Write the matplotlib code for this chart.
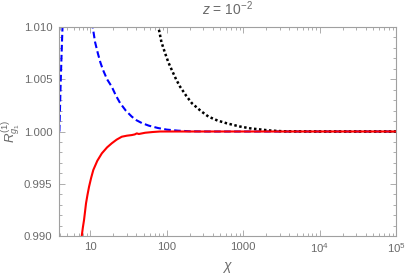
import matplotlib
matplotlib.use("Agg")
import matplotlib.pyplot as plt
from matplotlib.ticker import FixedLocator, LogLocator, NullFormatter, FixedFormatter

plt.rcParams['font.family'] = ['Liberation Sans', 'DejaVu Sans']
plt.rcParams['mathtext.fontset'] = 'custom'
plt.rcParams['mathtext.rm'] = 'Liberation Sans'
plt.rcParams['mathtext.it'] = 'Liberation Sans:italic'
plt.rcParams['mathtext.bf'] = 'Liberation Sans:bold'

# Data
blue_left_x = [3.92, 3.97, 4.05, 4.15, 4.25, 4.33]
blue_left_y = [1.0000, 1.0015, 1.0040, 1.0065, 1.0088, 1.0105]

blue_x = [10.5, 10.7, 11.5, 12.5, 13.5, 14.6, 16.5, 19.0, 21.5, 24.4, 29.0, 34.8, 40.0, 47.0, 58.0, 76.9, 100, 140, 202, 350, 1000, 1e4, 1e5]
blue_y = [1.0105, 1.0100, 1.00855, 1.00748, 1.00660, 1.00589, 1.00500, 1.00429, 1.00345, 1.00273, 1.00200, 1.00142, 1.00108, 1.00081, 1.00056, 1.00033, 1.00018, 1.00008, 1.00002, 1.00000, 1.00000, 1.00000, 1.00000]

black_x = [76, 77.6, 85, 95, 105, 116, 132, 149, 180, 213, 280, 351, 460, 611, 900, 1236, 2200, 3340, 1e4, 1e5]
black_y = [1.0102, 1.0100, 1.00855, 1.00748, 1.00660, 1.00589, 1.00500, 1.00429, 1.00340, 1.00270, 1.00195, 1.00142, 1.00105, 1.00078, 1.00048, 1.00030, 1.00010, 1.00002, 1.00000, 1.00000]

red_x = [7.6, 7.69, 7.95, 8.24, 8.5, 8.75, 9.15, 9.59, 10.2, 10.9, 12.3, 14.1, 16.5, 19.0, 22.0, 25.7, 30.0, 34.8, 38.0, 40.4, 43.0, 52.0, 65, 81.6, 200, 1000, 1e4, 1e5]
red_y = [0.9898, 0.9900, 0.99080, 0.99153, 0.99235, 0.99313, 0.99395, 0.99472, 0.99555, 0.99632, 0.99720, 0.99791, 0.99848, 0.99887, 0.99922, 0.99950, 0.99960, 0.99966, 0.99972, 0.99982, 0.99976, 0.99988, 0.99995, 1.00000, 1.00000, 1.00000, 1.00000, 1.00000]

x_ticks = [10, 100, 1000, 1e4, 1e5]
x_tick_labels = ["10", "100", "1000", r"$10^4$", r"$10^5$"]
y_ticks = [0.990, 0.995, 1.000, 1.005, 1.010]
y_tick_labels = ["0.990", "0.995", "1.000", "1.005", "1.010"]

gray = "#a0a0a0"
tgray = "#6a6a6a"

fig = plt.figure(figsize=(4.07, 2.74), dpi=100)
ax = fig.add_axes([59.3/407, 1 - 236/274, (396 - 59.3)/407, (236 - 27)/274])

ax.plot(blue_left_x, blue_left_y, color="#0000ff", lw=1.5, ls=(0, (3.2, 1.6)))
ax.plot(blue_x, blue_y, color="#0000ff", lw=1.5, ls=(0, (3.2, 1.6)))
ax.plot(black_x, black_y, color="black", lw=1.8, ls=(0, (1.0, 1.0)))
ax.plot(red_x, red_y, color="#ff0000", lw=1.5)

ax.set_xscale("log")
ax.set_xlim(3.91, 1e5)
ax.set_ylim(0.990, 1.010)

ax.xaxis.set_major_locator(FixedLocator(x_ticks))
ax.xaxis.set_major_formatter(FixedFormatter(x_tick_labels))
ax.xaxis.set_minor_locator(LogLocator(base=10, subs=range(2, 10), numticks=20))
ax.xaxis.set_minor_formatter(NullFormatter())
ax.yaxis.set_major_locator(FixedLocator(y_ticks))
ax.yaxis.set_major_formatter(FixedFormatter(y_tick_labels))
ax.yaxis.set_minor_locator(FixedLocator([0.990 + 0.001 * i for i in range(21)]))

for s in ax.spines.values():
    s.set_color(gray)
    s.set_linewidth(0.8)
ax.tick_params(which="both", direction="in", top=True, right=True, color=gray,
               labelcolor=tgray, labelsize=8.2, width=0.6)
ax.tick_params(which="major", length=4)
ax.tick_params(which="minor", length=2)
ax.tick_params(axis="x", pad=4)
ax.tick_params(axis="y", pad=5)

ax.set_xlabel(r"$\chi$", color=tgray, fontsize=10)
ax.xaxis.set_label_coords(0.5, -24/209, transform=ax.transAxes)
ax.set_ylabel(r"$R_{g_1}^{(1)}$", color=tgray, fontsize=9.5)
ax.yaxis.set_label_coords((23 - 59.3)/336.7, 0.5, transform=ax.transAxes)
ax.set_title(r"$z$ = 10$^{-2}$", color=tgray, fontsize=10, pad=9)

fig.savefig("out.png", dpi=100)
